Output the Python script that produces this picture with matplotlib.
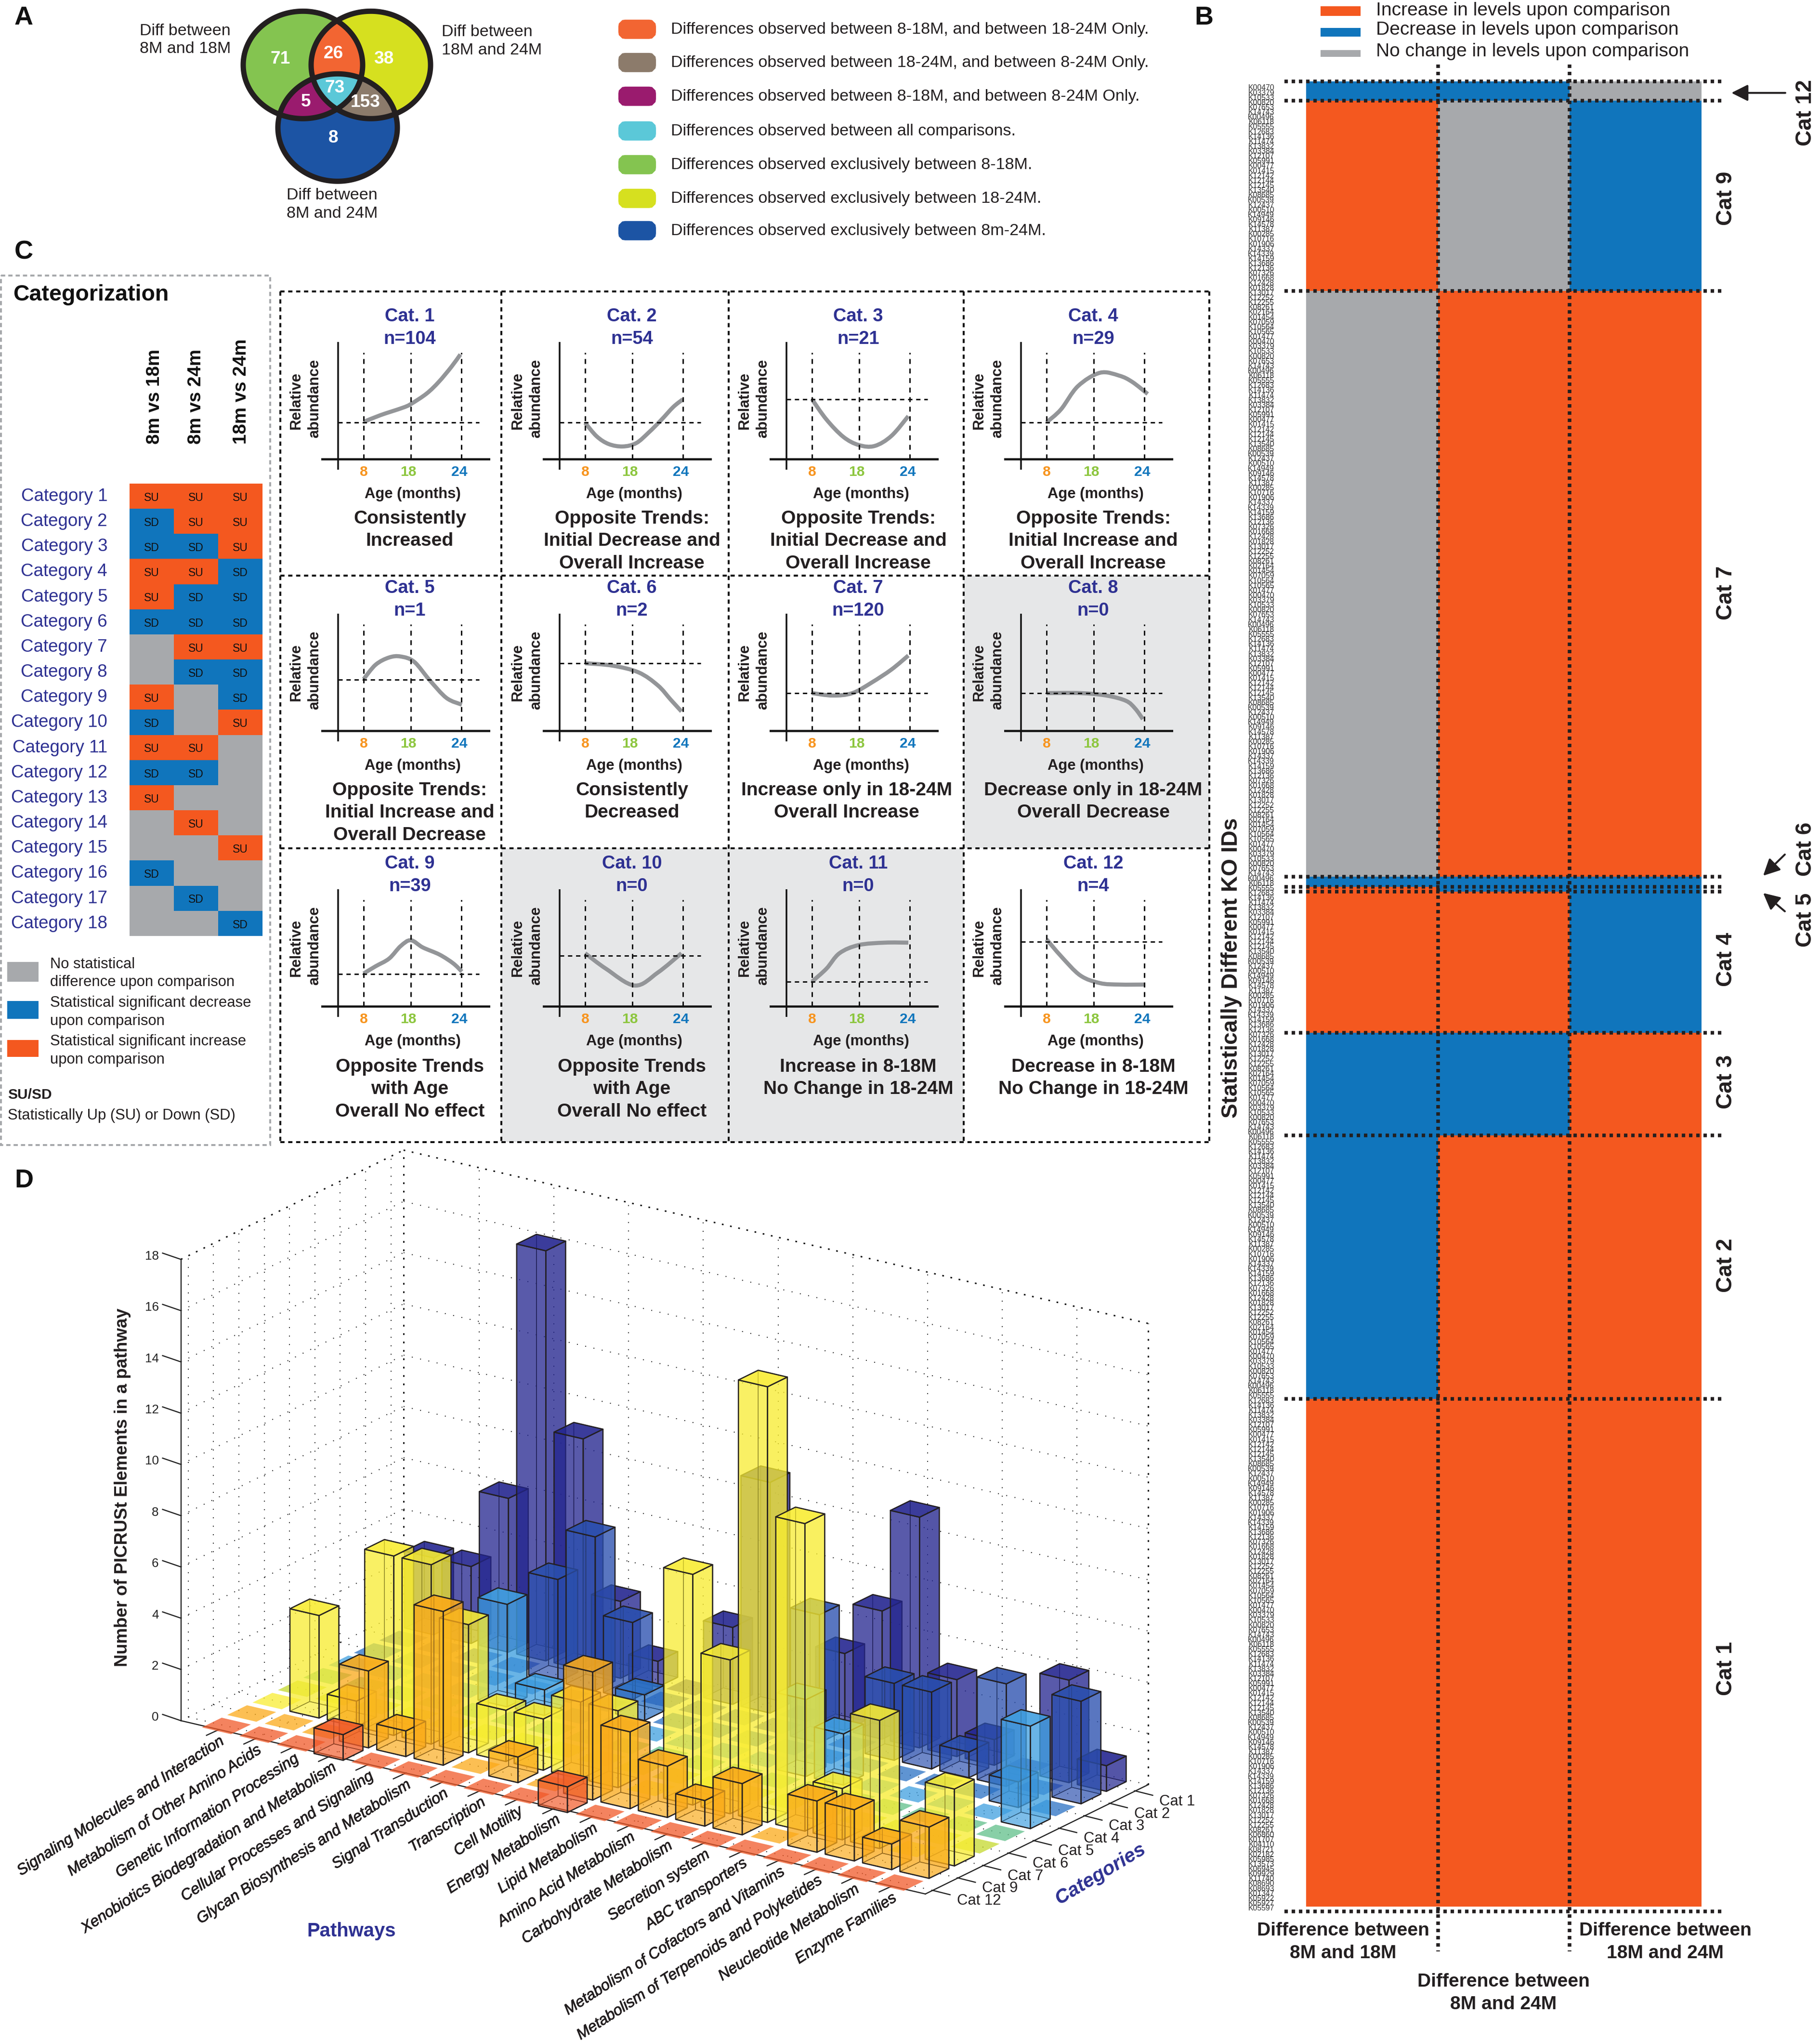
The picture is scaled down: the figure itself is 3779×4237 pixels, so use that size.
import numpy as np
import matplotlib
matplotlib.use("Agg")
import matplotlib.pyplot as plt
import matplotlib.patheffects as pe
from matplotlib.patches import Rectangle, Polygon, FancyBboxPatch, PathPatch
from matplotlib.path import Path
from matplotlib.collections import PolyCollection
from matplotlib.colors import ListedColormap, to_rgba

plt.rcParams['font.family'] = ['Liberation Sans', 'DejaVu Sans']
W, H, DPI = 3780, 4237, 100
INK = '#231f20'; NAVY = '#2e3192'
ORANGE = '#f4581f'; BLUE = '#1075bc'; GRAY = '#a7a9ac'

# ---------------- DATA ----------------
VENN_COUNTS = {'g': 71, 'gy': 26, 'y': 38, 'gyb': 73, 'gb': 5, 'yb': 153, 'b': 8}
VENN_LEGEND = ["Differences observed between 8-18M, and between 18-24M Only.",
               "Differences observed between 18-24M, and between 8-24M Only.",
               "Differences observed between 8-18M, and between 8-24M Only.",
               "Differences observed between all comparisons.",
               "Differences observed exclusively between 8-18M.",
               "Differences observed exclusively between 18-24M.",
               "Differences observed exclusively between 8m-24M."]
VENN_COLORS = ['#f26532', '#8c7b6b', '#9a1b6e', '#5bc8d8', '#84c450', '#d6e01f', '#1c54a4']

COMPARISONS = ['8m vs 18m', '8m vs 24m', '18m vs 24m']
CATEGORY_STATES = [[1, 1, 1], [-1, 1, 1], [-1, -1, 1], [1, 1, -1], [1, -1, -1], [-1, -1, -1],
                   [0, 1, 1], [0, -1, -1], [1, 0, -1], [-1, 0, 1], [1, 1, 0], [-1, -1, 0],
                   [1, 0, 0], [0, 1, 0], [0, 0, 1], [-1, 0, 0], [0, -1, 0], [0, 0, -1]]
CAT_N = [104, 54, 21, 29, 1, 2, 120, 0, 39, 0, 0, 4]
CAT_DESC = ["Consistently\nIncreased",
            "Opposite Trends:\nInitial Decrease and\nOverall Increase",
            "Opposite Trends:\nInitial Decrease and\nOverall Increase",
            "Opposite Trends:\nInitial Increase and\nOverall Increase",
            "Opposite Trends:\nInitial Increase and\nOverall Decrease",
            "Consistently\nDecreased",
            "Increase only in 18-24M\nOverall Increase",
            "Decrease only in 18-24M\nOverall Decrease",
            "Opposite Trends\nwith Age\nOverall No effect",
            "Opposite Trends\nwith Age\nOverall No effect",
            "Increase in 8-18M\nNo Change in 18-24M",
            "Decrease in 8-18M\nNo Change in 18-24M"]
EMPTY_CATS = [8, 10, 11]
AGE_LABELS = ['8', '18', '24']
AGE_COLORS = ['#f7941e', '#8dc63f', '#0f75bc']
# trend sketches: age position (0, 98, 203 = 8, 18, 24 months), level above the reference line
TREND_HLINE = [877, 877, 829, 877, 847, 813, 875, 875, 886, 848, 902, 819]
TRENDS = [
    [(0, 1), (35, 15), (80, 30), (98, 38), (131, 60), (156, 84), (182, 115), (201, 141)],
    [(0, -1), (24, -29), (49, -45), (78, -50), (106, -43), (132, -21), (158, 5), (183, 32), (203, 48)],
    [(0, 0), (30, -42), (65, -78), (97, -95), (130, -97), (165, -76), (200, -35)],
    [(0, 0), (30, 27), (65, 75), (111, 103), (151, 97), (178, 84), (210, 59)],
    [(0, 1), (25, 31), (53, 46), (77, 48), (105, 37), (137, -1), (172, -38), (204, -52)],
    [(0, 0), (57, -5), (111, -19), (151, -46), (178, -76), (200, -100)],
    [(0, 0), (43, -5), (84, 0), (124, 22), (165, 49), (200, 78)],
    [(0, 0), (70, 0), (124, -5), (165, -16), (184, -32), (200, -54)],
    [(0, 1), (25, 16), (53, 32), (77, 58), (98, 70), (123, 55), (158, 40), (186, 22), (204, 5)],
    [(0, 5), (43, -27), (103, -62), (151, -35), (200, 5)],
    [(0, 0), (30, 27), (57, 59), (97, 76), (151, 81), (200, 81)],
    [(0, 5), (30, -30), (70, -70), (111, -86), (151, -89), (205, -89)],
]
KO_TOP = """K00470 K03379 K10533 K00820 K07653 K14743 K00496 K06118 K05555 K12683 K14136 K11474 K13832
K03384 K12107 K05991 K00477 K01415 K12142 K12144 K12145 K13540 K08685 K00539 K12437 K00510 K14949
K09146 K14578 K11387 K00285 K10716 K01906 K14337 K14339 K14159 K13686 K12136 K07326 K01668 K12428
K01828 K13017 K12252 K12255 K08261 K02164 K01454 K07059 K10564 K10565 K01477""".split()
KO_BOTTOM = """K06860 K01707 K04110 K08721 K02182 K05985 K13573 K06945 K09929 K11740 K08690 K08693 K01347
K05922 K05927 K05597""".split()

PATHWAYS = ["Signaling Molecules and Interaction", "Metabolism of Other Amino Acids",
            "Genetic Information Processing", "Xenobiotics Biodegradation and Metabolism",
            "Cellular Processes and Signaling", "Glycan Biosynthesis and Metabolism",
            "Signal Transduction", "Transcription", "Cell Motility", "Energy Metabolism",
            "Lipid Metabolism", "Amino Acid Metabolism", "Carbohydrate Metabolism",
            "Secretion system", "ABC transporters", "Metabolism of Cofactors and Vitamins",
            "Metabolism of Terpenoids and Polyketides", "Neucleotide Metabolism", "Enzyme Families"]
BAR_CATS = ['Cat 12', 'Cat 9', 'Cat 7', 'Cat 6', 'Cat 5', 'Cat 4', 'Cat 3', 'Cat 2', 'Cat 1']
CAT12 = [0, 0, 0, 1, 0, 0, 0, 0, 0, 1, 0, 0, 0, 0, 0, 0, 0, 0, 0]
CAT9  = [0, 0, 0, 3, 1, 6, 0, 1, 0, 5, 3, 2, 1, 2, 0, 2, 2, 1, 2]
CAT7  = [0, 4, 1, 7, 7, 5, 2, 2, 3, 3, 0, 9, 6, 17, 12, 2, 5, 0, 3]
CAT6  = [0] * 19
CAT5  = [0] * 19
CAT4  = [0, 0, 0, 0, 4, 1, 0, 0, 0, 0, 0, 0, 3, 2, 0, 0, 0, 0, 4]
CAT3  = [0, 0, 0, 0, 0, 0, 0, 1, 0, 0, 0, 0, 0, 0, 0, 0, 0, 1, 0]
CAT2  = [0, 0, 0, 0, 4, 6, 3, 0, 0, 0, 0, 5, 0, 3, 3, 1, 4, 0, 4]
CAT1  = [3, 3, 6, 16, 9, 3, 1, 0, 3, 9, 0, 3, 5, 9, 3, 1, 0, 4, 1]
BAR_ROWS = [CAT12, CAT9, CAT7, CAT6, CAT5, CAT4, CAT3, CAT2, CAT1]
BAR_COLORS = ['#f15a29', '#fbaa19', '#f9ed32', '#c5d92d', '#60bf8a', '#3f9fe0', '#2a70c4', '#2a4fae', '#23258f']
Z_TICKS = [0, 2, 4, 6, 8, 10, 12, 14, 16, 18]

# ---------------- FIGURE ----------------
fig = plt.figure(figsize=(W / DPI, (H + 0.2) / DPI), dpi=DPI, facecolor='white')
ax0 = fig.add_axes([0, 0, 1, 1]); ax0.set_xlim(0, W); ax0.set_ylim(H, 0); ax0.axis('off')

def pt(p):
    return p * 72 / DPI

def T(x, y, s, em, ax=None, ha='left', va='center', weight='normal', color=INK, rotation=0, **kw):
    if ax is None:
        if rotation == 90:
            x = x + em * 0.12
        elif rotation == 0:
            y = y + em * 0.12
    return (ax or ax0).text(x, y, s, fontsize=pt(em), ha=ha, va=va, fontweight=weight, color=color,
                            rotation=rotation, **kw)

def rect_axes(x0, y0, x1, y1):
    a = fig.add_axes([x0 / W, 1 - y1 / H, (x1 - x0) / W, (y1 - y0) / H])
    a.patch.set_alpha(0); a.axis('off')
    return a

for s, x, y in [('A', 30, 31), ('B', 2480, 31), ('C', 30, 517), ('D', 30, 2444)]:
    T(x, y, s, 54, weight='bold', color='#111111')

# ---------------- A: Venn ----------------
def ell(cx, cy, w=248, h=223, n=240):
    t = np.linspace(0, 2 * np.pi, n, endpoint=False)
    return np.c_[cx + w / 2 * np.cos(t), cy + h / 2 * np.sin(t)]

def clip(subject, clipper):
    # clip polygon by a convex polygon
    out = list(subject)
    c = np.array(clipper)
    area = np.sum(c[:, 0] * np.roll(c[:, 1], -1) - np.roll(c[:, 0], -1) * c[:, 1])
    sgn = np.sign(area)
    for a, b in zip(c, np.roll(c, -1, axis=0)):
        inp, out = out, []
        if not inp:
            break
        d = b - a
        side = lambda p: sgn * (d[0] * (p[1] - a[1]) - d[1] * (p[0] - a[0]))
        prev = inp[-1]
        for p in inp:
            sp, sq = side(p), side(prev)
            if (sp >= 0) != (sq >= 0):
                tt = sq / (sq - sp)
                out.append(np.array(prev) + tt * (np.array(p) - np.array(prev)))
            if sp >= 0:
                out.append(p)
            prev = p
    return np.array(out)

EG, EY, EB = ell(629, 135), ell(770, 135), ell(701, 265)
regions = [(EG, '#84c450'), (EY, '#d6e01f'), (EB, '#1c54a4'),
           (clip(EG, EY), '#f26532'), (clip(EG, EB), '#9a1b6e'), (clip(EY, EB), '#8c7b6b'),
           (clip(clip(EG, EY), EB), '#5bc8d8')]
for poly, c in regions:
    ax0.add_patch(Polygon(poly, closed=True, fc=c, ec='none', zorder=2))
for e in (EG, EY, EB):
    ax0.add_patch(Polygon(e, closed=True, fc='none', ec=INK, lw=pt(11), zorder=3))
for k, x, y in [('g', 582, 118), ('gy', 692, 107), ('y', 797, 118), ('gyb', 695, 178),
                ('gb', 635, 207), ('yb', 759, 208), ('b', 692, 282)]:
    T(x, y, str(VENN_COUNTS[k]), 37, ha='center', weight='bold', color='white', zorder=4)
T(290, 60, 'Diff between', 34); T(290, 97, '8M and 18M', 34)
T(917, 62, 'Diff between', 34); T(917, 100, '18M and 24M', 34)
T(595, 401, 'Diff between', 34); T(595, 439, '8M and 24M', 34)
for s, c, y in zip(VENN_LEGEND, VENN_COLORS, [61, 130, 200, 272, 342, 412, 479]):
    ax0.add_patch(FancyBboxPatch((1297, y - 7), 52, 14, boxstyle='round,pad=0,rounding_size=2',
                                 fc=c, ec=c, lw=pt(26), mutation_scale=1))
    T(1393, y - 4, s, 34.2)

# ---------------- B: heat map ----------------
cmap3 = ListedColormap([BLUE, GRAY, ORANGE])
axB = rect_axes(2712, 169, 3533, 3958)
rows = [i for i in range(11, -1, -1) if CAT_N[i] > 0]
edges = np.r_[0, np.cumsum([CAT_N[i] for i in rows])]
axB.pcolormesh(np.arange(4), edges, np.array([CATEGORY_STATES[i] for i in rows]),
               cmap=cmap3, vmin=-1, vmax=1, shading='flat')
axB.set_xlim(0, 3); axB.set_ylim(edges[-1], 0); axB.axis('off')
dash = (0, (0.95, 1.05))
xl, xr = -45 / 273.7, 3 + 48 / 273.7
for e in list(edges[:-1]) + [edges[-1] + 1]:
    axB.plot([xl, xr], [e, e], color=INK, lw=pt(7.5), ls=dash, clip_on=False, dash_capstyle='butt', zorder=5)
for c in (1, 2):
    axB.plot([c, c], [-3.4, edges[-1] + 9.2], color=INK, lw=pt(7.5), ls=dash, clip_on=False,
             dash_capstyle='butt', zorder=5)
ko_mid = KO_TOP * 7
ko_ids = KO_TOP + ko_mid[:int(edges[-1]) - len(KO_TOP) - len(KO_BOTTOM)] + KO_BOTTOM
for i, k in enumerate(ko_ids):
    T(2646, 181 + i * 10.13, k, 15.8, ha='right', color='#333333')
for s, c, y0, y1, ty in [('Increase in levels upon comparison', ORANGE, 13, 33, 17),
                         ('Decrease in levels upon comparison', BLUE, 58, 76, 57),
                         ('No change in levels upon comparison', GRAY, 104, 118, 102)]:
    ax0.add_patch(Rectangle((2742, y0), 83, y1 - y0, fc=c, ec='none'))
    T(2857, ty, s, 39)
for s, y in [('Cat 9', 412), ('Cat 7', 1231), ('Cat 4', 1992), ('Cat 3', 2246), ('Cat 2', 2627), ('Cat 1', 3464)]:
    T(3578, y, s, 46, ha='center', weight='bold', rotation=90)
for s, y in [('Cat 12', 234), ('Cat 6', 1763), ('Cat 5', 1910)]:
    T(3743, y, s, 46, ha='center', weight='bold', rotation=90)
for (x0, y0), (x1, y1) in [((3707, 193), (3595, 193)), ((3706, 1774), (3661, 1818)), ((3706, 1892), (3661, 1854))]:
    ax0.annotate('', xy=(x1, y1), xytext=(x0, y0),
                 arrowprops=dict(arrowstyle='-|>,head_length=1.6,head_width=0.8', lw=pt(4), color=INK,
                                 shrinkA=0, shrinkB=0, mutation_scale=13))
T(2551, 2009, 'Statistically Different KO IDs', 46, ha='center', weight='bold', rotation=90)
for x, y, a, b in [(2789, 4003, 'Difference between', '8M and 18M'), (3458, 4003, 'Difference between', '18M and 24M'),
                   (3122, 4109, 'Difference between', '8M and 24M')]:
    T(x, y, a, 39, ha='center', weight='bold'); T(x, y + 47, b, 39, ha='center', weight='bold')

# ---------------- C: categorisation table ----------------
ax0.add_patch(Rectangle((2, 572), 559, 1805, fc='none', ec=GRAY, lw=pt(4), ls=(0, (2.2, 1.6))))
T(27, 606, 'Categorization', 46.5, weight='bold', color='#111111')
axT = rect_axes(269, 1004, 545, 1943)
axT.pcolormesh(np.arange(4), np.arange(19), np.array(CATEGORY_STATES), cmap=cmap3, vmin=-1, vmax=1, shading='flat')
axT.set_xlim(0, 3); axT.set_ylim(18, 0); axT.axis('off')
for r, st in enumerate(CATEGORY_STATES):
    for c, v in enumerate(st):
        if v:
            T(c + 0.5, r + 0.56, 'SU' if v > 0 else 'SD', 23, ax=axT, ha='center', color='#111111')
    T(223, 1004 + (r + 0.42) * 52.17, f'Category {r + 1}', 36.7, ha='right', color=NAVY)
for s, x in zip(COMPARISONS, [316, 402, 496]):
    T(x, 922, s, 38.5, ha='center', va='bottom', weight='bold', rotation=90, color='#111111')
for c, y0, y1 in [(GRAY, 1997, 2038), (BLUE, 2078, 2115), (ORANGE, 2159, 2194)]:
    ax0.add_patch(Rectangle((15, y0), 65, y1 - y0, fc=c, ec='none'))
for s, y in [('No statistical', 1998), ('difference upon comparison', 2035),
             ('Statistical significant decrease', 2078), ('upon comparison', 2116),
             ('Statistical significant increase', 2158), ('upon comparison', 2196)]:
    T(104, y, s, 31)
T(16, 2269, 'SU/SD', 30, weight='bold')
T(16, 2312, 'Statistically Up (SU) or Down (SD)', 31.2)

COLS = [582, 1041, 1513, 2001, 2511]
ROWS = [605, 1195, 1761, 2371]
ROW_OFF = [0, 564, 1136]
COL_AX = [702, 1162, 1633, 2120]
COL_TITLE = [851, 1312, 1782, 2270]
griddash = (0, (2.2, 1.9))

def bezier_path(pts):
    p = np.array(pts, float)
    verts = [p[0]]; codes = [Path.MOVETO]
    for i in range(len(p) - 1):
        m0 = (p[i + 1] - p[max(i - 1, 0)]) / 6
        m1 = (p[min(i + 2, len(p) - 1)] - p[i]) / 6
        verts += [p[i] + m0, p[i + 1] - m1, p[i + 1]]
        codes += [Path.CURVE4] * 3
    return Path(verts, codes)

for idx in range(12):
    r, c = idx // 4, idx % 4
    dy, ax_x = ROW_OFF[r], COL_AX[c]
    if idx + 1 in EMPTY_CATS:
        ax0.add_patch(Rectangle((COLS[c], ROWS[r]), COLS[c + 1] - COLS[c], ROWS[r + 1] - ROWS[r], fc='#e6e7e8', ec='none', zorder=0))
    x8 = ax_x + 53
    hl = TREND_HLINE[idx]
    m = rect_axes(ax_x - 35, 710 + dy, ax_x + 316, 975 + dy)
    m.set_xlim(-88, 263); m.set_ylim(hl - 975, hl - 710)
    y_axis = hl - 953
    m.plot([-53, -53], [hl - 975, hl - 710], color='#111111', lw=pt(3.5))
    m.plot([-88, 263], [y_axis, y_axis], color='#111111', lw=pt(4.5))
    for vx in (0, 98, 203):
        m.plot([vx, vx], [y_axis, hl - 732], color='#111111', lw=pt(3), ls=(0, (3.4, 3.2)))
    m.plot([-53, 240], [0, 0], color='#111111', lw=pt(3), ls=(0, (3, 2.6)))
    m.add_patch(PathPatch(bezier_path(TRENDS[idx]), fc='none', ec='#939598', lw=pt(8.5), capstyle='butt', clip_on=False))
    for s, col, lx in zip(AGE_LABELS, AGE_COLORS, (0, 93, 199)):
        T(x8 + lx, 976 + dy, s, 30, ha='center', weight='bold', color=col)
    T(x8 + 102, 1022 + dy, 'Age (months)', 31, ha='center', weight='bold')
    T(ax_x - 91, 831 + dy, 'Relative', 31, ha='center', weight='bold', rotation=90)
    T(ax_x - 53, 827 + dy, 'abundance', 31, ha='center', weight='bold', rotation=90)
    tx = COL_TITLE[c]
    T(tx, 652 + dy, f'Cat. {idx + 1}', 38, ha='center', weight='bold', color=NAVY)
    T(tx, 699 + dy, f'n={CAT_N[idx]}', 38, ha='center', weight='bold', color=NAVY)
    dx = -24 if idx == 6 else 0
    for k, line in enumerate(CAT_DESC[idx].split('\n')):
        T(tx + dx, 1072 + 46.5 * k + dy + (2 if r == 2 else 0), line, 39, ha='center', weight='bold')
for x in COLS:
    ax0.plot([x, x], [ROWS[0], ROWS[-1]], color='#111111', lw=pt(4), ls=griddash, zorder=1)
for y in ROWS:
    ax0.plot([COLS[0], COLS[-1]], [y, y], color='#111111', lw=pt(4), ls=griddash, zorder=1)

# ---------------- D: 3-D bars (orthographic projection) ----------------
P0 = np.array([470.0, 3583.0]); UX = np.array([77.6, 18.06]); VY = np.array([52.6, -25.8]); ZS = 53.2
UMIN, UMAX, VMIN, VMAX = -1.02, 18.9, -0.29, 8.5
BW = 0.78

def proj(u, v, z=0):
    p = P0 + u * UX + v * VY
    return (p[0], p[1] - z * ZS)

def seg(a, b, **kw):
    ax0.plot([a[0], b[0]], [a[1], b[1]], **kw)

thin = dict(color='#222222', lw=pt(2), ls=(0, (1, 7.8)), zorder=1)
thick = dict(color='#111111', lw=pt(3), ls=(0, (1.2, 4.6)), zorder=1)
ZTOP = Z_TICKS[-1]
for z in Z_TICKS[:-1]:
    seg(proj(UMIN, VMIN, z), proj(UMIN, VMAX, z), **thin)
    seg(proj(UMIN, VMAX, z), proj(UMAX, VMAX, z), **thin)
for j in range(9):
    seg(proj(UMIN, j, 0), proj(UMIN, j, ZTOP), **thin)
    seg(proj(UMIN, j, 0), proj(UMAX, j, 0), **thin)
for i in range(1, 19, 2):
    seg(proj(i, VMAX, 0), proj(i, VMAX, ZTOP), **thin)
    seg(proj(i, VMIN, 0), proj(i, VMAX, 0), **thin)
seg(proj(UMIN, VMIN, ZTOP), proj(UMIN, VMAX, ZTOP), **thick)
seg(proj(UMIN, VMAX, ZTOP), proj(UMAX, VMAX, ZTOP), **thick)
seg(proj(UMIN, VMAX, 0), proj(UMIN, VMAX, ZTOP), **thick)
seg(proj(UMAX, VMAX, 0), proj(UMAX, VMAX, ZTOP), **thick)
solid = dict(color='#222222', lw=pt(2.4), zorder=1)
seg(proj(UMIN, VMIN, 0), proj(UMIN, VMIN, ZTOP), **solid)
seg(proj(UMIN, VMIN, 0), proj(UMAX, VMIN, 0), **solid)
seg(proj(UMAX, VMIN, 0), proj(UMAX, VMAX, 0), **solid)

polys, fcs, ecs, lws = [], [], [], []
def face(pts, col, a, edge=True, lw=2.6):
    polys.append(pts); fcs.append(to_rgba(col, a))
    ecs.append(to_rgba(INK, 0.95) if edge else to_rgba('white', 0)); lws.append(pt(lw) if edge else 0)

for j in range(8, -1, -1):
    for i in range(19):
        h = BAR_ROWS[j][i]
        col = BAR_COLORS[j]
        u0, u1, v0, v1 = i - BW / 2, i + BW / 2, j - BW / 2, j + BW / 2
        if h == 0:
            face([proj(u0, v0), proj(u1, v0), proj(u1, v1), proj(u0, v1)], col, 0.75, edge=False)
            continue
        face([proj(u0, v1, 0), proj(u1, v1, 0), proj(u1, v1, h), proj(u0, v1, h)], col, 0.5, lw=1.5)
        face([proj(u0, v0, 0), proj(u0, v1, 0), proj(u0, v1, h), proj(u0, v0, h)], col, 0.5, lw=1.5)
        face([proj(u0, v0, 0), proj(u1, v0, 0), proj(u1, v1, 0), proj(u0, v1, 0)], col, 0.35, lw=1.5)
        face([proj(u0, v0, 0), proj(u1, v0, 0), proj(u1, v0, h), proj(u0, v0, h)], col, 0.5)
        face([proj(u1, v0, 0), proj(u1, v1, 0), proj(u1, v1, h), proj(u1, v0, h)], col, 0.55)
        face([proj(u0, v0, h), proj(u1, v0, h), proj(u1, v1, h), proj(u0, v1, h)], col, 0.78)
ax0.add_collection(PolyCollection(polys, facecolors=fcs, edgecolors=ecs, linewidths=lws, zorder=2))

for z in Z_TICKS:
    a = proj(UMIN, VMIN, z)
    seg(a, (a[0] - 38, a[1] - 13 + 0), color='#222222', lw=pt(2.4), zorder=1)
    T(a[0] - 46, a[1] - 10, str(z), 26, ha='right', color='#222222')
stroke = [pe.withStroke(linewidth=pt(0.9), foreground=INK)]
for i, s in enumerate(PATHWAYS):
    a = proj(i, VMIN)
    seg(a, (a[0] - 26, a[1] + 12), color='#222222', lw=pt(2.4), zorder=1)
    x, y = proj(i, 0)
    ax0.text(x - 8, y + 30, s, fontsize=pt(32), ha='right', va='center', rotation=33,
             rotation_mode='anchor', style='italic', color=INK, path_effects=stroke)
for j, s in enumerate(BAR_CATS):
    a = proj(UMAX, j)
    seg(a, (a[0] + 36, a[1] + 9), color='#222222', lw=pt(2.4), zorder=1)
    T(a[0] + 50, a[1] + 18, s, 31, color=INK)
T(730, 4004, 'Pathways', 40, ha='center', weight='bold', color=NAVY)
T(2285, 3890, 'Categories', 41, ha='center', weight='bold', color=NAVY, rotation=31, style='italic')
T(250, 3088, 'Number of PICRUSt Elements in a pathway', 36.5, ha='center', weight='bold', rotation=90)

fig.savefig('out.png', dpi=DPI, facecolor='white')
